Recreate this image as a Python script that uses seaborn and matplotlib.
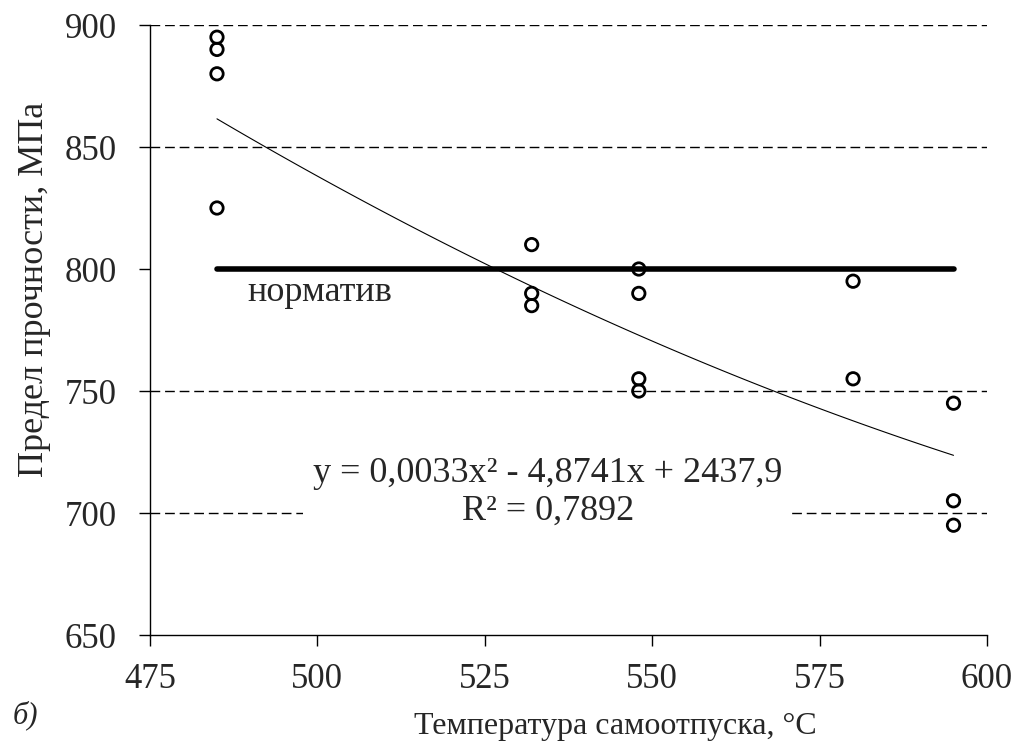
import matplotlib
matplotlib.use("Agg")
import matplotlib.pyplot as plt
import seaborn as sns
import pandas as pd

# Measured points
temp = [485, 485, 485, 485, 532, 532, 532, 548, 548, 548, 548, 580, 580, 595, 595, 595]
strength = [895, 890, 880, 825, 810, 790, 785, 800, 790, 755, 750, 795, 755, 745, 705, 695]
# Trend curve (polynomial trend, order 2)
trend_x = [485, 491.9, 518.4, 527.1, 548, 568.2, 580, 595]
trend_y = [862, 850, 811, 800, 772.5, 750, 738, 723.5]
# Standard level
norm_x = [485, 595]
norm_y = [800, 800]
x_ticks = [475, 500, 525, 550, 575, 600]
y_ticks = [650, 700, 750, 800, 850, 900]
grid_levels = [700, 750, 850, 900]

df = pd.DataFrame({"t": temp, "s": strength})
trend_df = pd.DataFrame({"t": trend_x, "s": trend_y})
norm_df = pd.DataFrame({"t": norm_x, "s": norm_y})

sns.set_style("ticks")
plt.rcParams["font.family"] = ["Liberation Serif", "DejaVu Serif"]

fig = plt.figure(figsize=(10.15, 7.42), dpi=100)
ax = fig.add_axes([0.1478, 0.1442, 0.9724 - 0.1478, 0.9663 - 0.1442])

for g in grid_levels:
    ax.axhline(g, color="black", lw=1.0, ls=(0, (7, 3.5)), zorder=1)

sns.regplot(data=trend_df, x="t", y="s", order=2, ci=None, scatter=False, ax=ax,
            line_kws=dict(color="black", lw=0.8, zorder=3))
sns.lineplot(data=norm_df, x="t", y="s", ax=ax, color="black", lw=4, zorder=4)
sns.scatterplot(data=df, x="t", y="s", ax=ax, marker="o", s=80,
                facecolor="none", edgecolor="black", linewidth=2, zorder=5)

ax.set_xlim(475, 600)
ax.set_ylim(650, 900)
ax.set_xticks(x_ticks)
ax.set_yticks(y_ticks)
ax.tick_params(axis="both", labelsize=25, direction="out", length=8, width=1, color="black")
ax.tick_params(axis="x", pad=12)
ax.tick_params(axis="y", pad=16)
for sp in ["top", "right"]:
    ax.spines[sp].set_visible(False)
for sp in ["left", "bottom"]:
    ax.spines[sp].set_color("black")
    ax.spines[sp].set_linewidth(1)

ax.set_xlabel("Температура самоотпуска, °С", fontsize=23)
ax.xaxis.set_label_coords(0.5556, -0.126)
ax.set_ylabel("Предел прочности, МПа", fontsize=26)
ax.yaxis.set_label_coords(-0.118, 0.566)

ax.text(500.4, 790.2, "норматив", fontsize=26, ha="center", va="center", zorder=6)
ax.text(534.4, 708.6, "y = 0,0033x² - 4,8741x + 2437,9\nR² = 0,7892", fontsize=26,
        ha="center", va="center", linespacing=1.19, zorder=6,
        bbox=dict(facecolor="white", edgecolor="none", pad=7))

fig.text(0.012, 1 - 715 / 742, "б)", fontsize=22, style="italic", ha="left", va="center")

fig.savefig("out.png", dpi=100, facecolor="white")
